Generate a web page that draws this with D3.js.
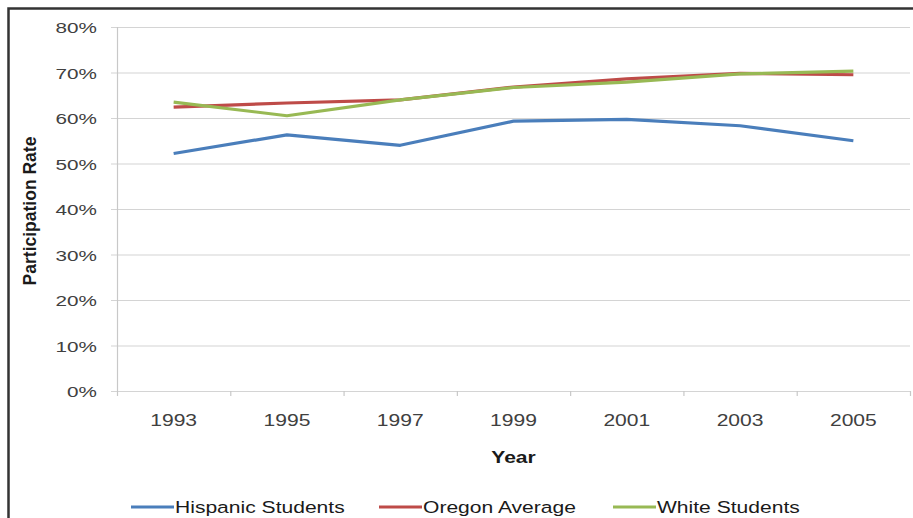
<!DOCTYPE html>
<html lang="en">
<head>
    <meta charset="UTF-8">
    <script src="https://d3js.org/d3.v7.min.js"></script>
    <title>Participation Rate</title>
    <style>
        body { margin: 0; background: #fff; }
        svg { display: block; font-family: "Liberation Sans", Arial, sans-serif; }
    </style>
</head>
<body>
    <div id="container"></div>
</body>
<script>
    // data
    var years = ["1993", "1995", "1997", "1999", "2001", "2003", "2005"];
    var hispanic = [52.2, 56.3, 54.0, 59.3, 59.7, 58.3, 55.0];
    var oregon = [62.4, 63.3, 64.0, 66.8, 68.6, 69.8, 69.5];
    var white = [63.5, 60.5, 64.0, 66.7, 67.9, 69.7, 70.3];
    var yTicks = [0, 10, 20, 30, 40, 50, 60, 70, 80];
    var seriesNames = ["Hispanic Students", "Oregon Average", "White Students"];
    var colors = ["#4a7ebb", "#be4b48", "#98b954"];

    var width = 913, height = 518;
    var margin = {left: 117, top: 27, right: 3, bottom: 127};
    // the source picture is stretched sideways, so text is widened a bit
    var stretch = 1.24;

    var svg = d3.select("#container").append("svg")
        .attr("width", width).attr("height", height);

    // outer frame (left + top visible)
    svg.append("path")
        .attr("d", "M8.5,520 L8.5,8.5 L913,8.5")
        .attr("fill", "none")
        .attr("stroke", "#333")
        .attr("stroke-width", 2.5);

    var x = d3.scaleBand().domain(years)
        .range([margin.left, width - margin.right]);
    var y = d3.scaleLinear().domain([0, 80])
        .range([height - margin.bottom, margin.top]);

    // gridlines
    svg.append("g")
        .selectAll("line")
        .data(yTicks)
        .join("line")
            .attr("x1", margin.left - 6)
            .attr("x2", width - margin.right)
            .attr("y1", d => y(d) + 0.5)
            .attr("y2", d => y(d) + 0.5)
            .attr("stroke", "#d4d4d4")
            .attr("stroke-width", 1.2);

    // y axis line
    svg.append("line")
        .attr("x1", margin.left + 0.5).attr("x2", margin.left + 0.5)
        .attr("y1", y(80)).attr("y2", y(0))
        .attr("stroke", "#c8c8c8").attr("stroke-width", 1.2);

    // y labels
    svg.append("g")
        .selectAll("text")
        .data(yTicks)
        .join("text")
            .attr("transform", d => `translate(97,${y(d) + 1}) scale(1.38,1)`)
            .attr("dy", "0.35em")
            .attr("text-anchor", "end")
            .attr("font-size", 15)
            .attr("fill", "#404040")
            .text(d => d + "%");

    // x ticks between categories
    var edges = years.map(d => x(d)).concat([x.range()[1]]);
    svg.append("g")
        .selectAll("line")
        .data(edges)
        .join("line")
            .attr("x1", d => d + 0.5).attr("x2", d => d + 0.5)
            .attr("y1", y(0)).attr("y2", y(0) + 5)
            .attr("stroke", "#c8c8c8").attr("stroke-width", 1.2);

    svg.append("g")
        .selectAll("text")
        .data(years)
        .join("text")
            .attr("transform", d => `translate(${x(d) + x.bandwidth() / 2},426) scale(${stretch},1)`)
            .attr("text-anchor", "middle")
            .attr("font-size", 17)
            .attr("fill", "#404040")
            .text(d => d);

    // axis titles
    svg.append("text")
        .attr("transform", `translate(${x(years[3]) + x.bandwidth() / 2},463) scale(${stretch},1)`)
        .attr("text-anchor", "middle")
        .attr("font-size", 17)
        .attr("font-weight", "bold")
        .attr("fill", "#1a1a1a")
        .text("Year");

    svg.append("text")
        .attr("transform", "translate(36,211) rotate(-90)")
        .attr("text-anchor", "middle")
        .attr("font-size", 17.5)
        .attr("font-weight", "bold")
        .attr("fill", "#1a1a1a")
        .text("Participation Rate");

    // lines
    var allSeries = [hispanic, oregon, white];
    var line = d3.line()
        .x((d, i) => x(years[i]) + x.bandwidth() / 2)
        .y(d => y(d));

    svg.append("g")
        .attr("fill", "none")
        .attr("stroke-width", 3.2)
        .attr("stroke-linejoin", "round")
        .selectAll("path")
        .data(allSeries)
        .join("path")
            .attr("stroke", (d, i) => colors[i])
            .attr("d", line);

    // legend
    var legendX = [131, 379, 613];
    var legend = svg.append("g")
        .selectAll("g")
        .data(seriesNames)
        .join("g")
            .attr("transform", (d, i) => `translate(${legendX[i]},507)`);
    legend.append("line")
        .attr("x1", 0).attr("x2", 43)
        .attr("stroke", (d, i) => colors[i])
        .attr("stroke-width", 3);
    legend.append("text")
        .attr("transform", `translate(44,0) scale(${stretch},1)`)
        .attr("dy", "0.35em")
        .attr("font-size", 17)
        .attr("fill", "#1a1a1a")
        .text(d => d);
</script>
</html>
